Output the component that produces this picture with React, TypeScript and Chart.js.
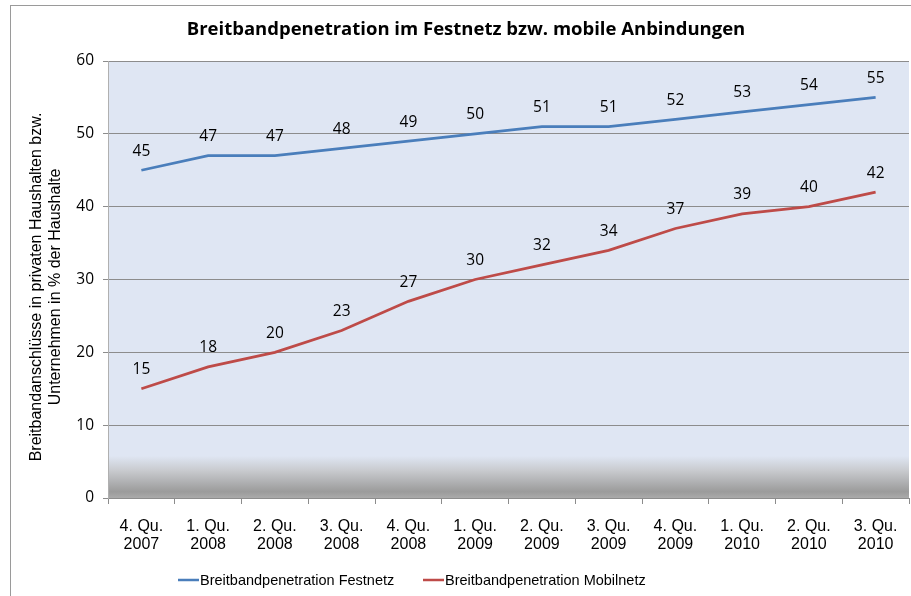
import React, { useEffect, useRef } from "react";
import { Chart, registerables } from "chart.js";

Chart.register(...registerables);

const title = "Breitbandpenetration im Festnetz bzw. mobile Anbindungen";
const yTitleLines = ["Breitbandanschlüsse in privaten Haushalten bzw.", "Unternehmen in % der Haushalte"];
const categories: string[][] = [
  ["4. Qu.", "2007"], ["1. Qu.", "2008"], ["2. Qu.", "2008"], ["3. Qu.", "2008"],
  ["4. Qu.", "2008"], ["1. Qu.", "2009"], ["2. Qu.", "2009"], ["3. Qu.", "2009"],
  ["4. Qu.", "2009"], ["1. Qu.", "2010"], ["2. Qu.", "2010"], ["3. Qu.", "2010"],
];
const festnetzLabel = "Breitbandpenetration Festnetz";
const festnetz = [45, 47, 47, 48, 49, 50, 51, 51, 52, 53, 54, 55];
const mobilLabel = "Breitbandpenetration Mobilnetz";
const mobil = [15, 18, 20, 23, 27, 30, 32, 34, 37, 39, 40, 42];
const yMin = 0;
const yMax = 60;
const yStep = 10;

const BLUE = "rgb(74,126,187)";
const RED = "rgb(190,75,72)";
const PLOT_BG = "rgb(223,230,243)";

const decorPlugin = {
  id: "decor",
  beforeDraw(chart: any) {
    const { ctx, chartArea } = chart;
    const { left, right, top, bottom } = chartArea;
    ctx.save();
    ctx.fillStyle = "#fff";
    ctx.fillRect(0, 0, chart.width, chart.height);
    ctx.strokeStyle = "#9a9a9a";
    ctx.lineWidth = 1;
    ctx.strokeRect(10.5, 5.5, chart.width + 10, chart.height + 10);
    ctx.fillStyle = PLOT_BG;
    ctx.fillRect(left, top, right - left, bottom - top);
    const gTop = bottom - 42;
    const g = ctx.createLinearGradient(0, gTop, 0, bottom);
    g.addColorStop(0, PLOT_BG);
    g.addColorStop(0.35, "rgb(200,202,206)");
    g.addColorStop(0.85, "rgb(155,155,155)");
    g.addColorStop(1, "rgb(170,170,170)");
    ctx.fillStyle = g;
    ctx.fillRect(left, gTop, right - left, bottom - gTop);
    ctx.restore();
  },
  afterDraw(chart: any) {
    const { ctx } = chart;
    ctx.save();
    ctx.fillStyle = "#000";
    ctx.font = "bold 18.5px 'Open Sans'";
    ctx.textAlign = "center";
    ctx.textBaseline = "middle";
    ctx.fillText(title, 466, 30);
    ctx.font = "16px 'Liberation Sans'";
    const cy = 287;
    ctx.save();
    ctx.translate(37, cy);
    ctx.rotate(-Math.PI / 2);
    ctx.fillText(yTitleLines[0], 0, 0);
    ctx.restore();
    ctx.save();
    ctx.translate(56, cy);
    ctx.rotate(-Math.PI / 2);
    ctx.fillText(yTitleLines[1], 0, 0);
    ctx.restore();
    ctx.font = "15.5px 'Open Sans'";
    chart.data.datasets.forEach((ds: any, i: number) => {
      const meta = chart.getDatasetMeta(i);
      meta.data.forEach((pt: any, j: number) => {
        ctx.fillText(String(ds.data[j]), pt.x, pt.y - 19);
      });
    });
    const ly = 580;
    ctx.font = "14.5px 'Liberation Sans'";
    ctx.textAlign = "left";
    const items = [
      { x: 178, color: BLUE, text: festnetzLabel },
      { x: 423, color: RED, text: mobilLabel },
    ];
    items.forEach((it) => {
      ctx.strokeStyle = it.color;
      ctx.lineWidth = 2.5;
      ctx.beginPath();
      ctx.moveTo(it.x, ly);
      ctx.lineTo(it.x + 21, ly);
      ctx.stroke();
      ctx.fillStyle = "#000";
      ctx.fillText(it.text, it.x + 22, ly + 1);
    });
    ctx.restore();
  },
};

export default function App() {
  const ref = useRef<HTMLCanvasElement | null>(null);
  useEffect(() => {
    document.body.style.margin = "0";
    const canvas = ref.current!;
    const chart = new Chart(canvas, {
      type: "line",
      data: {
        labels: categories,
        datasets: [
          { label: festnetzLabel, data: festnetz, borderColor: BLUE, borderWidth: 2.75, pointRadius: 0, tension: 0 },
          { label: mobilLabel, data: mobil, borderColor: RED, borderWidth: 2.75, pointRadius: 0, tension: 0 },
        ],
      },
      plugins: [decorPlugin],
      options: {
        animation: false,
        responsive: false,
        devicePixelRatio: 1,
        layout: { padding: { top: 61, right: 2, left: 0, bottom: 0 } },
        plugins: { legend: { display: false }, title: { display: false }, tooltip: { enabled: false } },
        scales: {
          x: {
            offset: true,
            grid: { offset: true, drawOnChartArea: false, drawTicks: true, tickLength: 6, color: "#8c8c8c" },
            border: { color: "#8c8c8c" },
            ticks: { color: "#000", font: { family: "'Liberation Sans'", size: 16, lineHeight: 1.15 }, padding: 13, maxRotation: 0, autoSkip: false },
            afterFit(scale: any) { scale.height = 98; },
          },
          y: {
            min: yMin,
            max: yMax,
            grid: { color: "#8c8c8c", tickLength: 5 },
            border: { color: "#b0b0b0" },
            ticks: { stepSize: yStep, color: "#000", font: { family: "'Open Sans'", size: 15.5 }, padding: 9 },
            afterFit(scale: any) { scale.width = 108; },
          },
        },
      },
    });
    return () => chart.destroy();
  }, []);
  return <canvas ref={ref} width={911} height={596} style={{ display: "block", width: 911, height: 596 }} />;
}
